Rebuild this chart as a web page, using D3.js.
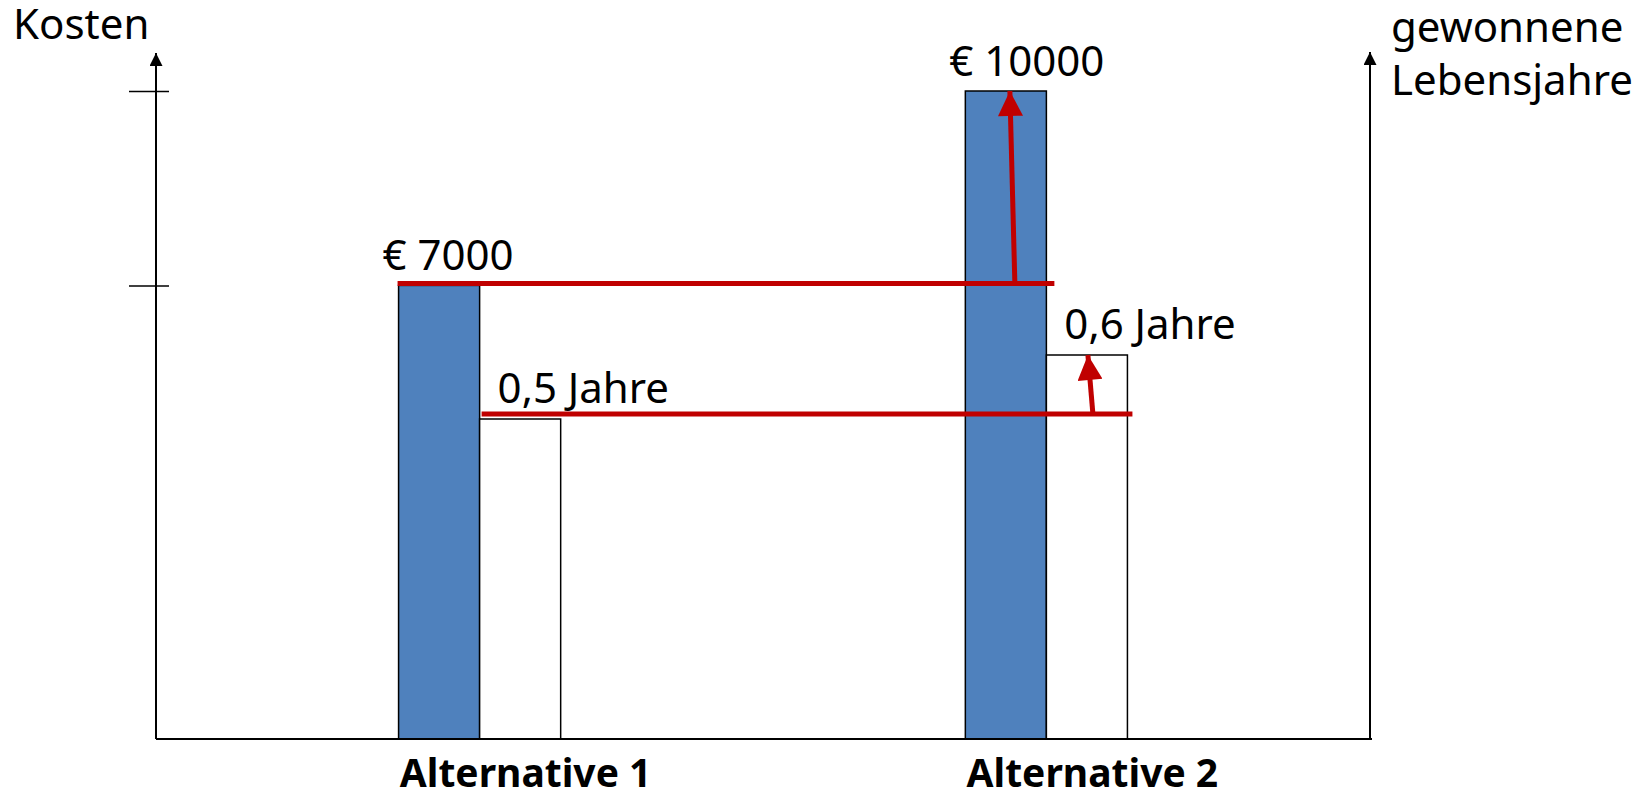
<!DOCTYPE html>
<html>
<head>
<meta charset="utf-8">
<script src="https://cdn.jsdelivr.net/npm/d3@7"></script>
<style>
  body { margin: 0; background: #fff; }
  text { font-family: "Noto Sans", sans-serif; fill: #000; }
</style>
</head>
<body>
<div id="chart"></div>
<script>
const alternatives = ["Alternative 1", "Alternative 2"];
const costs = [7000, 10000];
const lifeYears = [0.5, 0.6];
const costLabels = ["€ 7000", "€ 10000"];
const yearLabels = ["0,5 Jahre", "0,6 Jahre"];
const costTicks = [7000, 10000];

const width = 1642;
const height = 799;
const baseY = 739;
const leftX = 156;
const rightX = 1370;
const red = "#C00000";

const svg = d3.select("#chart")
    .append("svg")
    .attr("width", width)
    .attr("height", height);

const defs = svg.append("defs");
defs.append("marker")
    .attr("id", "axis-head")
    .attr("viewBox", "0 0 10 10")
    .attr("refX", 10).attr("refY", 5)
    .attr("markerWidth", 7.5).attr("markerHeight", 6.5)
    .attr("markerUnits", "strokeWidth")
    .attr("orient", "auto")
    .append("path").attr("d", "M0,0L10,5L0,10Z").attr("fill", "#000");
defs.append("marker")
    .attr("id", "red-head")
    .attr("viewBox", "0 0 10 10")
    .attr("refX", 10).attr("refY", 5)
    .attr("markerWidth", 5.4).attr("markerHeight", 5)
    .attr("markerUnits", "strokeWidth")
    .attr("orient", "auto")
    .append("path").attr("d", "M0,0L10,5L0,10Z").attr("fill", red);

// scales
const x = d3.scaleBand()
    .domain(alternatives)
    .range([leftX, rightX])
    .paddingInner(0.714)
    .paddingOuter(0.428);

const sub = d3.scaleBand()
    .domain(["cost", "years"])
    .range([0, x.bandwidth()]);

const yCost = d3.scaleLinear()
    .domain([0, 10000])
    .range([baseY, 91]);

const yYears = d3.scaleLinear()
    .domain([0, 1])
    .range([baseY, baseY - 640]);

const data = alternatives.map((a, i) => ({
    name: a, cost: costs[i], years: lifeYears[i],
    costLabel: costLabels[i], yearLabel: yearLabels[i]
}));

// bars
const groups = svg.selectAll("g.alt")
    .data(data)
    .enter()
    .append("g")
    .attr("class", "alt")
    .attr("transform", d => `translate(${x(d.name)},0)`);

groups.append("rect")
    .attr("x", sub("cost"))
    .attr("y", d => yCost(d.cost))
    .attr("width", sub.bandwidth())
    .attr("height", d => baseY - yCost(d.cost))
    .attr("fill", "#4F81BD")
    .attr("stroke", "#000")
    .attr("stroke-width", 1.5);

groups.append("rect")
    .attr("x", sub("years"))
    .attr("y", d => yYears(d.years))
    .attr("width", sub.bandwidth())
    .attr("height", d => baseY - yYears(d.years))
    .attr("fill", "#fff")
    .attr("stroke", "#000")
    .attr("stroke-width", 1.5);

groups.append("text")
    .attr("x", sub("cost") - 16)
    .attr("y", d => yCost(d.cost) - 15)
    .style("font-size", "42px")
    .text(d => d.costLabel);

groups.append("text")
    .attr("x", sub("years") + 18)
    .attr("y", d => yYears(d.years) - 16)
    .style("font-size", "42px")
    .text(d => d.yearLabel);

groups.append("text")
    .attr("x", x.bandwidth() / 2 + 46)
    .attr("y", 787)
    .attr("text-anchor", "middle")
    .style("font-size", "39px")
    .style("font-weight", "bold")
    .text(d => d.name);

// axes
const yAxis = svg.append("g")
    .attr("transform", `translate(${leftX},0)`)
    .call(d3.axisLeft(yCost).tickValues(costTicks).tickFormat("").tickSize(27));
yAxis.select(".domain").remove();
yAxis.selectAll(".tick line")
    .attr("x1", 13)
    .attr("stroke", "#000")
    .attr("stroke-width", 1.5);

svg.append("line")
    .attr("x1", leftX).attr("y1", baseY)
    .attr("x2", leftX).attr("y2", 53)
    .attr("stroke", "#000").attr("stroke-width", 2)
    .attr("marker-end", "url(#axis-head)");

svg.append("line")
    .attr("x1", rightX).attr("y1", baseY)
    .attr("x2", rightX).attr("y2", 52)
    .attr("stroke", "#000").attr("stroke-width", 2)
    .attr("marker-end", "url(#axis-head)");

svg.append("line")
    .attr("x1", leftX).attr("y1", baseY)
    .attr("x2", rightX + 2).attr("y2", baseY)
    .attr("stroke", "#000").attr("stroke-width", 2);

svg.append("text")
    .attr("x", 13).attr("y", 39)
    .style("font-size", "42px")
    .text("Kosten");

svg.append("text")
    .attr("x", 1391).attr("y", 42)
    .style("font-size", "42px")
    .text("gewonnene");
svg.append("text")
    .attr("x", 1391).attr("y", 95)
    .style("font-size", "42px")
    .text("Lebensjahre");

// comparison lines
const a1 = data[0], a2 = data[1];
const costLineY = yCost(a1.cost) - 2;
const yearLineY = yYears(a1.years) - 5;

svg.append("line")
    .attr("x1", x(a1.name) + sub("cost") - 1)
    .attr("x2", x(a2.name) + sub("cost") + sub.bandwidth() + 8)
    .attr("y1", costLineY).attr("y2", costLineY)
    .attr("stroke", red).attr("stroke-width", 5);

svg.append("line")
    .attr("x1", x(a1.name) + sub("years") + 2)
    .attr("x2", x(a2.name) + sub("years") + sub.bandwidth() + 5)
    .attr("y1", yearLineY).attr("y2", yearLineY)
    .attr("stroke", red).attr("stroke-width", 5);

// arrows
const costMid = x(a2.name) + sub("cost") + sub.bandwidth() / 2;
svg.append("line")
    .attr("x1", costMid + 9).attr("y1", costLineY)
    .attr("x2", costMid + 4).attr("y2", yCost(a2.cost))
    .attr("stroke", red).attr("stroke-width", 5)
    .attr("marker-end", "url(#red-head)");

const yearMid = x(a2.name) + sub("years") + sub.bandwidth() / 2;
svg.append("line")
    .attr("x1", yearMid + 6).attr("y1", yearLineY)
    .attr("x2", yearMid + 1).attr("y2", yYears(a2.years))
    .attr("stroke", red).attr("stroke-width", 5)
    .attr("marker-end", "url(#red-head)");
</script>
</body>
</html>
